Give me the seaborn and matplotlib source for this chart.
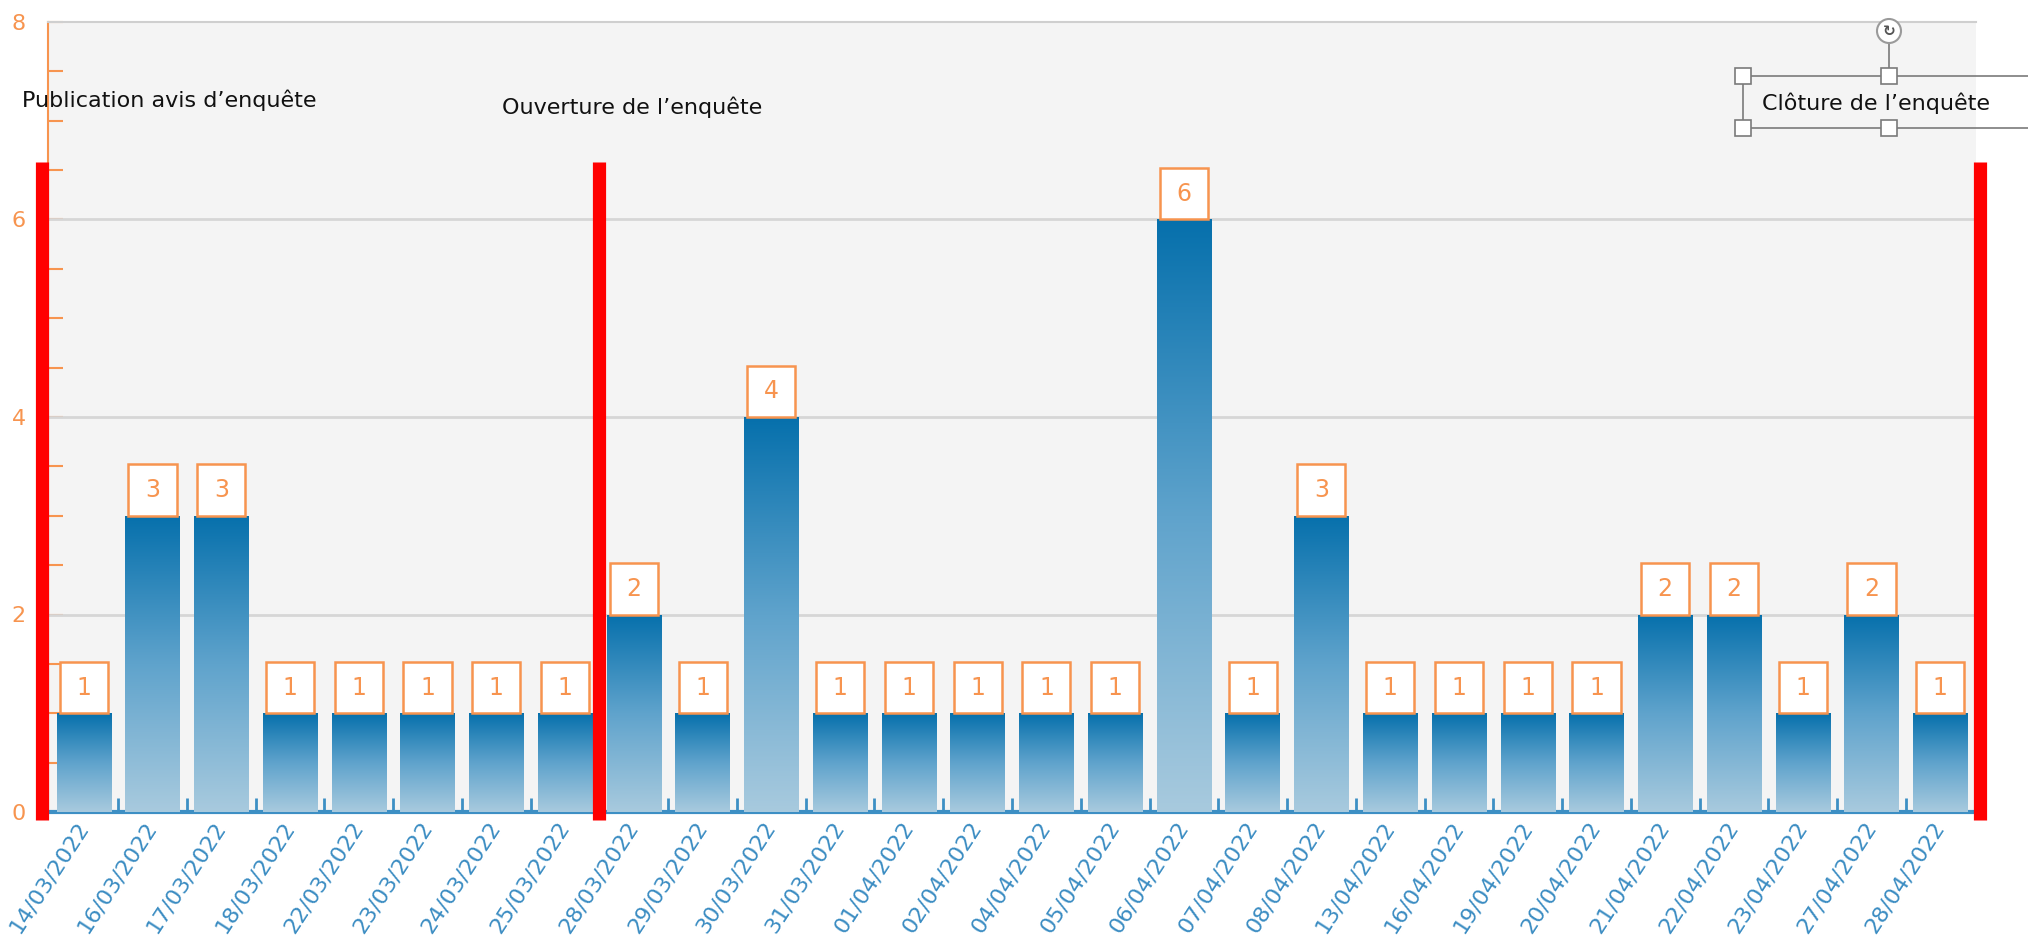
import numpy as np
import pandas as pd
import seaborn as sns
import matplotlib.pyplot as plt
from matplotlib.patches import Rectangle, Circle
from matplotlib.colors import LinearSegmentedColormap
from matplotlib.ticker import MultipleLocator, FixedLocator

# Données : nombre de contributions par date
dates = ["14/03/2022", "16/03/2022", "17/03/2022", "18/03/2022", "22/03/2022",
         "23/03/2022", "24/03/2022", "25/03/2022", "28/03/2022", "29/03/2022",
         "30/03/2022", "31/03/2022", "01/04/2022", "02/04/2022", "04/04/2022",
         "05/04/2022", "06/04/2022", "07/04/2022", "08/04/2022", "13/04/2022",
         "16/04/2022", "19/04/2022", "20/04/2022", "21/04/2022", "22/04/2022",
         "23/04/2022", "27/04/2022", "28/04/2022"]
valeurs = [1, 3, 3, 1, 1, 1, 1, 1, 2, 1, 4, 1, 1, 1, 1, 1, 6, 1, 3, 1, 1, 1, 1, 2, 2, 1, 2, 1]

# Repères (position en index de catégorie) et textes
reperes_x = [-0.6, 7.5, 27.58]
reperes_haut = 6.58
textes = ["Publication avis d\u2019enquête", "Ouverture de l\u2019enquête", "Clôture de l\u2019enquête"]

ORANGE = "#f7944f"
BLEU_TXT = "#3a8cc2"
BLEU_AXE = "#3d8fc4"

df = pd.DataFrame({"Date": dates, "Nombre": valeurs})

sns.set_style("white")
plt.rcParams["font.family"] = ["DejaVu Sans"]

fig = plt.figure(figsize=(20.28, 9.49), dpi=100)
ax = fig.add_axes([48 / 2028, 1 - 812 / 949, (1976 - 48) / 2028, (812 - 22) / 949])
ax.set_facecolor("#f4f4f4")

sns.barplot(data=df, x="Date", y="Nombre", ax=ax, color="#0670ac", width=0.79,
            errorbar=None, zorder=3)

# Dégradé vertical dans chaque barre
cmap = LinearSegmentedColormap.from_list("degrade", ["#a8cade", "#5fa3cc", "#0670ac"])
grad = np.linspace(0, 1, 256).reshape(-1, 1)
for p in ax.patches:
    x0, w, h = p.get_x(), p.get_width(), p.get_height()
    p.set_facecolor("none")
    p.set_edgecolor("none")
    im = ax.imshow(grad, extent=(x0, x0 + w, 0, h), origin="lower", cmap=cmap,
                   aspect="auto", zorder=3)
    im.set_clip_path(p)

    # étiquette de valeur dans un cadre orange
    bw, bh = 0.70, 0.52
    cx = x0 + w / 2
    ax.add_patch(Rectangle((cx - bw / 2, h), bw, bh, facecolor="white",
                           edgecolor=ORANGE, linewidth=1.8, zorder=4))
    ax.text(cx, h + bh / 2, f"{int(h)}", ha="center", va="center",
            color=ORANGE, fontsize=17, zorder=5)

ax.set_xlim(-0.52, len(dates) - 0.48)
ax.set_ylim(0, 8)

# Lignes rouges des étapes
for xr in reperes_x:
    ax.plot([xr, xr], [-0.08, reperes_haut], color="#ff0000", linewidth=9.5,
            solid_capstyle="butt", clip_on=False, zorder=6)

# Grille horizontale
for yv in [2, 4, 6]:
    ax.axhline(yv, color="#d6d6d6", linewidth=2, zorder=1)

# Axes
ax.yaxis.set_major_locator(MultipleLocator(2))
ax.yaxis.set_minor_locator(MultipleLocator(0.5))
ax.tick_params(axis="y", which="both", direction="in", colors=ORANGE,
               length=11, width=1.5, left=True)
ax.tick_params(axis="y", which="major", labelsize=16, pad=16, labelcolor=ORANGE)

ax.xaxis.set_minor_locator(FixedLocator(np.arange(0.5, len(dates) - 1, 1)))
ax.tick_params(axis="x", which="major", length=0, pad=8, labelsize=16,
               labelcolor=BLEU_TXT)
ax.tick_params(axis="x", which="minor", direction="in", length=10, width=2,
               color=BLEU_AXE, bottom=True)
for lab in ax.get_xticklabels():
    lab.set_rotation(57)
    lab.set_ha("right")
    lab.set_va("center")
    lab.set_rotation_mode("anchor")

ax.set_xlabel("")
ax.set_ylabel("")

ax.spines["left"].set_color(ORANGE)
ax.spines["left"].set_linewidth(1.5)
ax.spines["bottom"].set_color(BLEU_AXE)
ax.spines["bottom"].set_linewidth(3)
ax.spines["top"].set_color("#cfcfcf")
ax.spines["top"].set_linewidth(1.5)
ax.spines["right"].set_visible(False)

# Couche de décor en pixels (textes et cadre de sélection)
ov = fig.add_axes([0, 0, 1, 1], facecolor="none")
ov.set_xlim(0, 2028)
ov.set_ylim(949, 0)
ov.axis("off")

ov.text(22, 100, textes[0], fontsize=16, color="#111111", va="center", ha="left")
ov.text(502, 107, textes[1], fontsize=16, color="#111111", va="center", ha="left")
ov.text(1762, 103, textes[2], fontsize=16, color="#111111", va="center", ha="left")

# cadre de la zone de texte sélectionnée
gris = "#7a7a7a"
ov.plot([1743, 2040], [76, 76], color=gris, linewidth=1.2, clip_on=False)
ov.plot([1743, 2040], [128, 128], color=gris, linewidth=1.2, clip_on=False)
ov.plot([1743, 1743], [76, 128], color=gris, linewidth=1.2)
ov.plot([1889, 1889], [42, 76], color=gris, linewidth=1.2)
for hx, hy in [(1743, 76), (1889, 76), (1743, 128), (1889, 128)]:
    ov.add_patch(Rectangle((hx - 8, hy - 8), 16, 16, facecolor="white",
                           edgecolor=gris, linewidth=1.2, zorder=5))
ov.add_patch(Circle((1889, 31), 12, facecolor="white", edgecolor="#9a9a9a",
                    linewidth=1.5, zorder=5))
ov.text(1889, 31, "\u21bb", fontsize=11, color="#555555", ha="center", va="center",
        fontweight="bold", zorder=6)

fig.savefig("out.png", dpi=100)
